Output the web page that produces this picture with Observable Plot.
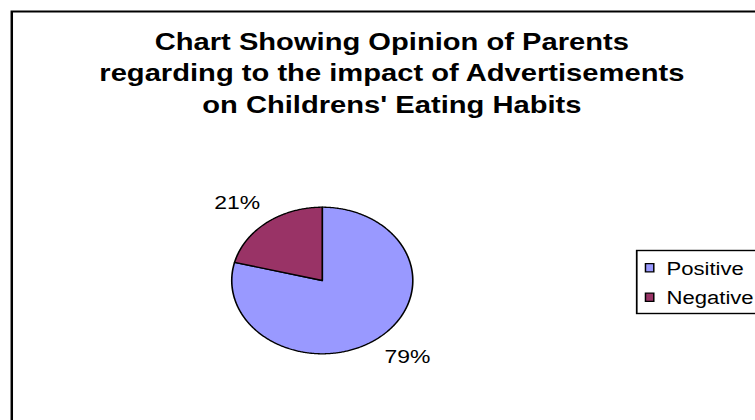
<!DOCTYPE html>
<html>
<head>
<meta charset="utf-8">
<script src="https://cdn.jsdelivr.net/npm/d3@7"></script>
<script src="https://cdn.jsdelivr.net/npm/@observablehq/plot@0.6"></script>
<style>
  html, body { margin: 0; padding: 0; background: #fff; overflow: hidden; }
  #chart svg { display: block; transform: scaleX(1.24); transform-origin: 0 0; }
</style>
</head>
<body>
<div id="chart"></div>
<script>
// ---- data ----
const categories = ["Positive", "Negative"];
const values = [79, 21];
const labels = ["79%", "21%"];
const colors = ["#9999FF", "#993366"];
const titleLines = [
  "Chart Showing Opinion of Parents",
  "regarding to the impact of Advertisements",
  "on Childrens' Eating Habits"
];

// ---- slice geometry from data (clockwise from 12 o'clock) ----
const arcs = d3.pie().sort(null).startAngle(0).endAngle(2 * Math.PI)(values);
function slicePoints(a, i) {
  const pts = [{x: 0, y: 0, k: categories[i]}];
  const n = Math.max(4, Math.ceil((a.endAngle - a.startAngle) / 0.01));
  for (let j = 0; j <= n; j++) {
    const t = a.startAngle + (a.endAngle - a.startAngle) * j / n;
    pts.push({x: Math.sin(t), y: Math.cos(t), k: categories[i]});
  }
  return pts;
}
const labelData = arcs.map((a, i) => {
  const m = (a.startAngle + a.endAngle) / 2;
  return {x: Math.sin(m) * 1.12, y: Math.cos(m) * 1.33, text: labels[i], anchor: Math.sin(m) >= 0 ? "start" : "end"};
});

// swatch symbol: looks square after the horizontal stretch
const swatch = {
  draw(ctx, size) {
    const h = Math.sqrt(size), w = h / 1.24;
    ctx.moveTo(-w / 2, -h / 2); ctx.lineTo(w / 2, -h / 2);
    ctx.lineTo(w / 2, h / 2); ctx.lineTo(-w / 2, h / 2); ctx.closePath();
  }
};

const font = "Arial, 'Liberation Sans', sans-serif";

const marks = [
  Plot.frame({stroke: "#000", strokeWidth: 2, insetLeft: 9, insetTop: 11, insetRight: -10, insetBottom: -10}),
  ...titleLines.map((t, i) => Plot.text([t], {
    frameAnchor: "top-left", dx: 315.5, dy: 49 + i * 31.6, text: d => d,
    textAnchor: "middle", lineAnchor: "bottom",
    fontSize: 23.5, fontWeight: "bold", fill: "#000"
  })),
  ...arcs.map((a, i) => Plot.line(slicePoints(a, i), {
    x: "x", y: "y", fill: colors[i], stroke: "#000", strokeWidth: 1.3,
    curve: "linear-closed", strokeLinejoin: "round"
  })),
  ...labelData.map(d => Plot.text([d], {
    x: "x", y: "y", text: "text", textAnchor: d.anchor, lineAnchor: "middle",
    fontSize: 18.5, fill: "#000"
  })),
  Plot.frame({stroke: "#000", strokeWidth: 1.4, insetLeft: 513, insetTop: 250, insetRight: -10, insetBottom: 107}),
  ...categories.map((c, i) => Plot.dot([c], {
    frameAnchor: "top-left", dx: 523.4, dy: 267.3 + i * 29.5,
    symbol: swatch, r: 4.7, fill: colors[i], stroke: "#000", strokeWidth: 1.2
  })),
  ...categories.map((c, i) => Plot.text([c], {
    frameAnchor: "top-left", dx: 537, dy: 274.3 + i * 29.5, text: d => d,
    textAnchor: "start", lineAnchor: "bottom", fontSize: 17.8, fill: "#000"
  }))
];

const chart = Plot.plot({
  width: 609,
  height: 420,
  margin: 0,
  style: {fontFamily: font, background: "#fff", overflow: "visible"},
  x: {domain: [-1, 1], range: [259.4 - 73, 259.4 + 73], axis: null},
  y: {domain: [-1, 1], range: [280 + 73.3, 280 - 73.3], axis: null},
  marks
});
document.getElementById("chart").appendChild(chart);
</script>
</body>
</html>
